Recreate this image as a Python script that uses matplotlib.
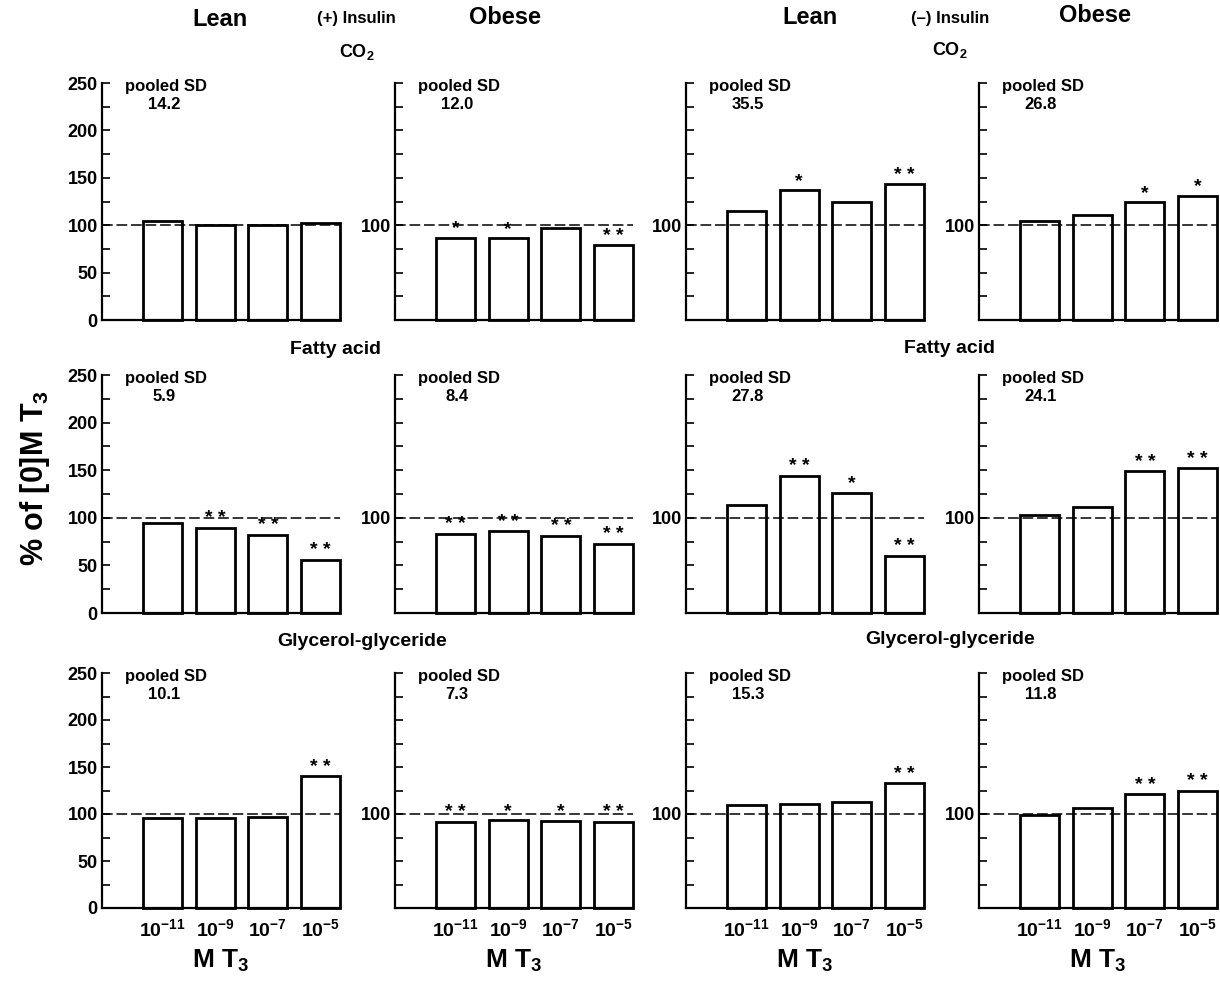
import matplotlib
matplotlib.use('Agg')
import matplotlib.pyplot as plt
import numpy as np

plt.rcParams['font.family'] = ['Liberation Sans', 'DejaVu Sans']
plt.rcParams['font.weight'] = 'bold'
plt.rcParams['axes.labelweight'] = 'bold'
plt.rcParams['mathtext.fontset'] = 'custom'
plt.rcParams['mathtext.rm'] = 'Liberation Sans:bold'
plt.rcParams['mathtext.bf'] = 'Liberation Sans:bold'
plt.rcParams['mathtext.it'] = 'Liberation Sans:bold'
plt.rcParams['mathtext.default'] = 'bf'

#%% data (% of 0 M T3)
conc_labels = [r'$10^{-11}$', r'$10^{-9}$', r'$10^{-7}$', r'$10^{-5}$']

# CO2
co2_lean_ins = [104, 100, 100, 102]
co2_obese_ins = [87, 86, 97.5, 79]
co2_lean_noins = [115, 137, 125, 143]
co2_obese_noins = [104, 111, 124, 131]
co2_lean_ins_sig = ['', '', '', '']
co2_obese_ins_sig = ['*', '*', '', '**']
co2_lean_noins_sig = ['', '*', '', '**']
co2_obese_noins_sig = ['', '', '*', '*']
co2_sd = ['14.2', '12.0', '35.5', '26.8']

# fatty acid
fa_lean_ins = [95, 89.5, 82, 56]
fa_obese_ins = [83.5, 86, 81, 73]
fa_lean_noins = [113, 144, 126, 60]
fa_obese_noins = [103, 111, 149, 152]
fa_lean_ins_sig = ['', '**', '**', '**']
fa_obese_ins_sig = ['**', '**', '**', '**']
fa_lean_noins_sig = ['', '**', '*', '**']
fa_obese_noins_sig = ['', '', '**', '**']
fa_sd = ['5.9', '8.4', '27.8', '24.1']

# glycerol-glyceride
gg_lean_ins = [96, 96, 97, 140]
gg_obese_ins = [92, 93.5, 93, 92]
gg_lean_noins = [110, 111, 113, 133]
gg_obese_noins = [99, 106, 121, 125]
gg_lean_ins_sig = ['', '', '', '**']
gg_obese_ins_sig = ['**', '*', '*', '**']
gg_lean_noins_sig = ['', '', '', '**']
gg_obese_noins_sig = ['', '', '**', '**']
gg_sd = ['10.1', '7.3', '15.3', '11.8']

rows = [
    ([co2_lean_ins, co2_obese_ins, co2_lean_noins, co2_obese_noins],
     [co2_lean_ins_sig, co2_obese_ins_sig, co2_lean_noins_sig, co2_obese_noins_sig], co2_sd),
    ([fa_lean_ins, fa_obese_ins, fa_lean_noins, fa_obese_noins],
     [fa_lean_ins_sig, fa_obese_ins_sig, fa_lean_noins_sig, fa_obese_noins_sig], fa_sd),
    ([gg_lean_ins, gg_obese_ins, gg_lean_noins, gg_obese_noins],
     [gg_lean_ins_sig, gg_obese_ins_sig, gg_lean_noins_sig, gg_obese_noins_sig], gg_sd),
]

#%% layout
W, H = 1220, 982
fig = plt.figure(figsize=(W / 100, H / 100), dpi=100)
col_left = [102, 395, 686, 979]
row_top = [83, 375, 673]
row_bot = [320, 613, 908]
ax_w = 238

x = np.arange(4)
for r, (vals_row, sig_row, sd_row) in enumerate(rows):
    for c in range(4):
        ax = fig.add_axes([col_left[c] / W, 1 - row_bot[r] / H,
                           ax_w / W, (row_bot[r] - row_top[r]) / H])
        vals = vals_row[c]
        ax.bar(x, vals, width=0.74, color='white', edgecolor='black', linewidth=2, zorder=2,
               clip_on=False)
        ax.axhline(100, color='black', lw=1.1, dashes=(7, 2.5), zorder=3)
        for xi, v, s in zip(x, vals, sig_row[c]):
            if s:
                ax.text(xi, v + 0.5, ' '.join(s), ha='center', va='bottom', fontsize=14, zorder=4)
        ax.set_xlim(-1.15, 3.37)
        ax.set_ylim(0, 250)
        for sp in ['top', 'right']:
            ax.spines[sp].set_visible(False)
        ax.spines['left'].set_linewidth(1.6)
        ax.spines['bottom'].set_linewidth(1.6)
        yt = np.arange(0, 251, 25)
        ax.set_yticks(yt)
        if c == 0:
            ax.set_yticklabels([str(v) if v % 50 == 0 else '' for v in yt])
        else:
            ax.set_yticklabels(['100' if v == 100 else '' for v in yt])
        ax.tick_params(axis='y', direction='in', length=6, width=1.2, labelsize=13, pad=3)
        ax.set_xticks(x)
        if r == 2:
            ax.set_xticklabels(conc_labels, fontsize=14)
            ax.tick_params(axis='x', length=0, pad=7)
            ax.set_xlabel(r'M T$_3$', fontsize=19, labelpad=6)
        else:
            ax.set_xticklabels([])
            ax.tick_params(axis='x', length=0)
        ax.text(0.27, 0.985, 'pooled SD', transform=ax.transAxes, ha='center', va='center', fontsize=12)
        ax.text(0.26, 0.91, sd_row[c], transform=ax.transAxes, ha='center', va='center', fontsize=12)

#%% headings
fig.text(220 / W, 1 - 20 / H, 'Lean', ha='center', va='center', fontsize=17)
fig.text(356 / W, 1 - 18 / H, '(+) Insulin', ha='center', va='center', fontsize=12)
fig.text(505 / W, 1 - 17 / H, 'Obese', ha='center', va='center', fontsize=17)
fig.text(357 / W, 1 - 52 / H, r'CO$_2$', ha='center', va='center', fontsize=13)
fig.text(810 / W, 1 - 18 / H, 'Lean', ha='center', va='center', fontsize=17)
fig.text(950 / W, 1 - 18 / H, '(\u2013) Insulin', ha='center', va='center', fontsize=12)
fig.text(1095 / W, 1 - 16 / H, 'Obese', ha='center', va='center', fontsize=17)
fig.text(950 / W, 1 - 50 / H, r'CO$_2$', ha='center', va='center', fontsize=13)
fig.text(335 / W, 1 - 350 / H, 'Fatty acid', ha='center', va='center', fontsize=14)
fig.text(950 / W, 1 - 348 / H, 'Fatty acid', ha='center', va='center', fontsize=14)
fig.text(362 / W, 1 - 642 / H, 'Glycerol-glyceride', ha='center', va='center', fontsize=14)
fig.text(950 / W, 1 - 640 / H, 'Glycerol-glyceride', ha='center', va='center', fontsize=14)
fig.text(35 / W, 1 - 478 / H, r'% of [0]M T$_3$', ha='center', va='center', rotation=90, fontsize=22)

fig.savefig('out.png', dpi=100)
